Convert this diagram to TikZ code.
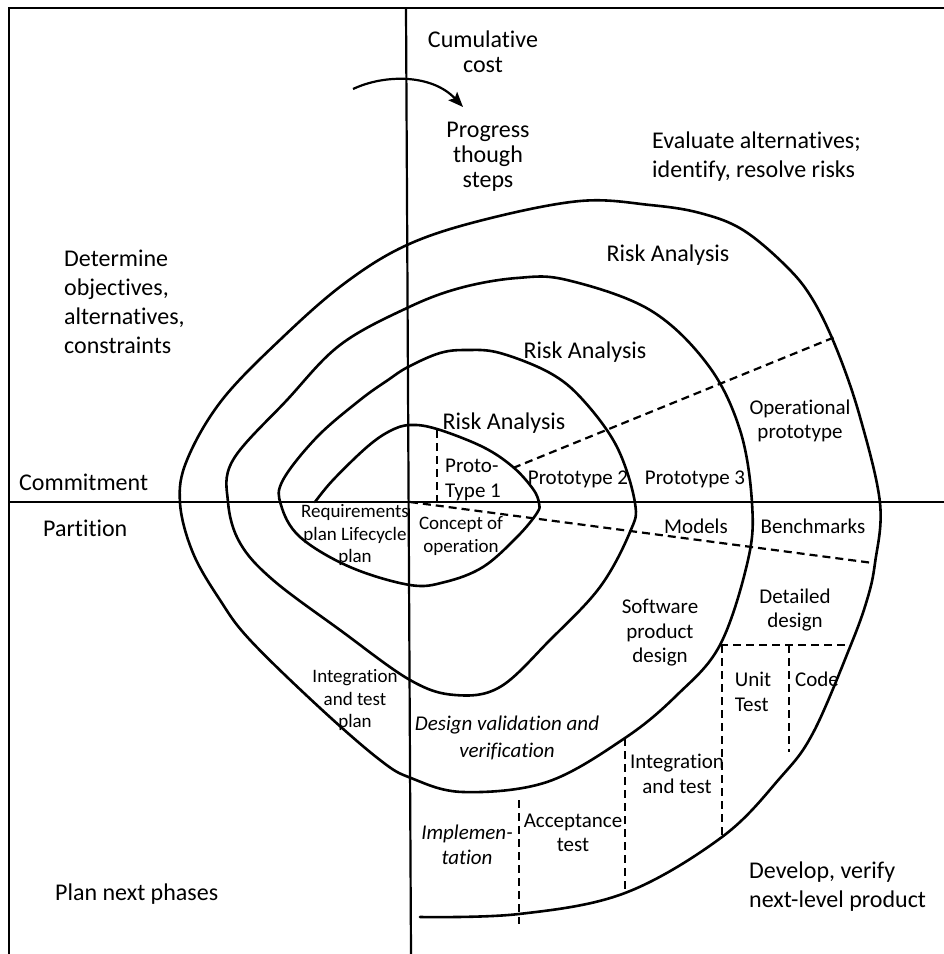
\documentclass[tikz,border=0pt]{standalone}
\usepackage{fontspec}
\setmainfont{Carlito}[Ligatures=NoCommon]
\usetikzlibrary{arrows.meta}
\begin{document}
\begin{tikzpicture}[x=1pt,y=-1pt,
  spiralline/.style={line width=2.6pt, line join=round, line cap=round},
  axisline/.style={line width=2.2pt},
  dashline/.style={line width=2.2pt, dash pattern=on 8pt off 5pt},
  big/.style={font=\fontsize{24}{29}\selectfont, inner sep=0pt, align=center},
  bigtight/.style={font=\fontsize{24}{25}\selectfont, inner sep=0pt, align=center},
  mid/.style={font=\fontsize{21}{24.5}\selectfont, inner sep=0pt, align=center},
  small/.style={font=\fontsize{19}{22.5}\selectfont, inner sep=0pt, align=center},
]
\useasboundingbox (0,0) rectangle (944,954);
\fill[white] (0,0) rectangle (944,954);

% frame and quadrant axes
\coordinate (tl) at (9,8);
\coordinate (tr) at (944,8);
\coordinate (bl) at (9,954);
\coordinate (vt) at (406,8);
\coordinate (vb) at (411,954);
\coordinate (hl) at (9,502);
\coordinate (hr) at (944,502);
\draw[axisline] (tr) -- (tl) -- (bl);
\draw[axisline] (vt) -- (vb);
\draw[axisline] (hl) -- (hr);

% the spiral, from the centre outwards
\draw[spiralline] plot[smooth, tension=0.6] coordinates {
 (315,502) (333,480) (367,447) (390,431) (410,425) (437,429) (483,447)
 (513,467) (533,489) (539,503) (537,513) (517,537) (483,567) (445,582)
 (410,585) (350,567) (300,537) (281,505)
 (283,480) (317,437) (360,400) (388,380) (408,367) (440,353) (467,350)
 (500,353) (550,373) (583,400) (617,447) (635,503) (630,532) (600,587)
 (550,640) (500,687) (455,695) (410,680) (340,630) (273,580) (240,543)
 (228,502)
 (233,460) (287,400) (340,345) (407,308) (460,288) (517,278) (567,280)
 (650,310) (708,365) (740,430) (752,503) (748,560) (720,645)
 (677,695) (625,738) (547,782) (463,792) (411,778) (380,760) (320,708)
 (250,640) (220,600) (193,553) (180,503) (187,460) (222,400) (283,337)
 (345,283) (407,245) (483,220) (580,201) (650,205) (700,213) (743,230)
 (787,267) (813,300) (837,350) (860,417) (880,503) (875,563) (867,600)
 (850,647) (813,733) (780,778) (722,837) (625,893) (519,914) (420,917)};

% dashed sector boundaries
\coordinate (p1a) at (437,430);  \coordinate (p1b) at (437,502);
\coordinate (p2a) at (513,468);  \coordinate (p2b) at (835,337);
\coordinate (c0)  at (410,502);  \coordinate (bmk) at (873,563);
\coordinate (dda) at (720,645);  \coordinate (ddb) at (850,645);
\coordinate (ita) at (722,645);  \coordinate (itb) at (722,838);
\coordinate (uta) at (789,645);  \coordinate (utb) at (789,752);
\coordinate (ata) at (625,738);  \coordinate (atb) at (625,893);
\coordinate (ima) at (519,800);  \coordinate (imb) at (519,924);
\draw[dashline] (p1a) -- (p1b);
\draw[dashline] (p2a) -- (p2b);
\draw[dashline] (c0) -- (bmk);
\draw[dashline] (dda) -- (ddb);
\draw[dashline] (ita) -- (itb);
\draw[dashline] (uta) -- (utb);
\draw[dashline] (ata) -- (atb);
\draw[dashline] (ima) -- (imb);

% progress arrow across the vertical axis
\coordinate (arrs) at (353,89);
\coordinate (arre) at (463,107);
\draw[line width=2.2pt, -{Stealth[length=15pt,width=12pt,inset=3pt]}]
  (arrs) .. controls (385,74) and (432,74) .. (arre);

% quadrant labels
\node[bigtight] (cum) at (483,52) {Cumulative\\cost};
\node[bigtight] (prog) at (488,157) {Progress\\though\\steps};
\node[big, anchor=west, align=left] (eval) at (652,157) {Evaluate alternatives;\\identify, resolve risks};
\node[big, anchor=west, align=left] (det) at (64,302) {Determine\\objectives,\\alternatives,\\constraints};
\node[big, anchor=west] (commit) at (19,482) {Commitment};
\node[big, anchor=west] (part) at (43,528) {Partition};
\node[big, anchor=west] (plan) at (55,894) {Plan next phases};
\node[big, anchor=west, align=left] (dev) at (749,887) {Develop, verify\\next-level product};

% risk analysis labels
\node[big] (ra3) at (668,255) {Risk Analysis};
\node[big] (ra2) at (585,352) {Risk Analysis};
\node[big] (ra1) at (504,423) {Risk Analysis};

% prototypes and design stages
\node[mid, align=left, anchor=west] (pt1) at (445,480) {Proto-\\Type 1};
\node[mid] (pt2) at (578,479) {Prototype 2};
\node[mid] (pt3) at (695,479) {Prototype 3};
\node[mid] (opp) at (800,421) {Operational\\prototype};
\node[mid] (mod) at (696,526) {Models};
\node[mid] (bench) at (813,526) {Benchmarks};
\node[mid] (detd) at (795,610) {Detailed\\design};
\node[mid] (spd) at (660,633) {Software\\product\\design};
\node[mid, align=left] (ut) at (753,692) {Unit\\Test};
\node[mid] (code) at (817,679) {Code};
\node[mid] (intt) at (677,774) {Integration\\and test};
\node[mid] (acc) at (573,833) {Acceptance\\test};
\node[mid, font=\fontsize{21}{24.5}\selectfont\itshape] (impl) at (467,845) {Implemen-\\tation};
\node[mid, font=\fontsize{21}{27}\selectfont\itshape] (dvv) at (507,738) {Design validation and\\verification};
\node[small] (itp) at (355,700) {Integration\\and test\\plan};
\node[small] (req) at (355,535) {Requirements\\plan Lifecycle\\plan};
\node[small] (conc) at (461,536) {Concept of\\operation};
\end{tikzpicture}
\end{document}
